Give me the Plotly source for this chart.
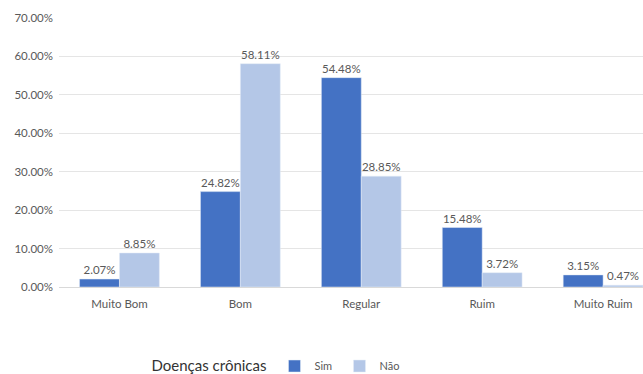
import plotly.graph_objects as go

categories = ["Muito Bom", "Bom", "Regular", "Ruim", "Muito Ruim"]
sim = [2.07, 24.82, 54.48, 15.48, 3.15]
nao = [8.85, 58.11, 28.85, 3.72, 0.47]
yticks = [0, 10, 20, 30, 40, 50, 60, 70]

FONT = "Lato"
GRAY = "#595959"

fig = go.Figure()
fig.add_trace(go.Bar(x=categories, y=sim, name="Sim", marker_color="#4472C4",
                     text=[f"{v:.2f}%" for v in sim], textposition="outside",
                     textfont=dict(size=11.5, color=GRAY), cliponaxis=False))
fig.add_trace(go.Bar(x=categories, y=nao, name="Não", marker_color="#B4C7E7",
                     text=[f"{v:.2f}%" for v in nao], textposition="outside",
                     textfont=dict(size=11.5, color=GRAY), cliponaxis=False))

fig.update_layout(
    width=643, height=374,
    margin=dict(l=59, r=0, t=18, b=87),
    paper_bgcolor="white", plot_bgcolor="white",
    font=dict(family=FONT, size=11, color=GRAY),
    barmode="group", bargap=0.34, bargroupgap=0,
    showlegend=True,
    legend=dict(orientation="h", x=0.155, y=0.02, xanchor="left", yanchor="middle",
                yref="container",
                title=dict(text="Doenças crônicas", font=dict(size=15, color="#333333"), side="left"),
                font=dict(size=11, color=GRAY), itemwidth=30,
                entrywidth=20, entrywidthmode="pixels"),
    xaxis=dict(range=[-0.5, 4.33], showline=True, linecolor="#D9D9D9", ticks="",
               ticklabelstandoff=6,
               tickfont=dict(size=11.5, color=GRAY)),
    yaxis=dict(range=[0, 70], tickvals=yticks, ticktext=[f"{v:.2f}%" for v in yticks],
               showgrid=True, gridcolor="#E5E5E5", zeroline=False, ticks="",
               ticklabelstandoff=5,
               tickfont=dict(size=11.5, color=GRAY)),
)

fig.write_html("out.html")
